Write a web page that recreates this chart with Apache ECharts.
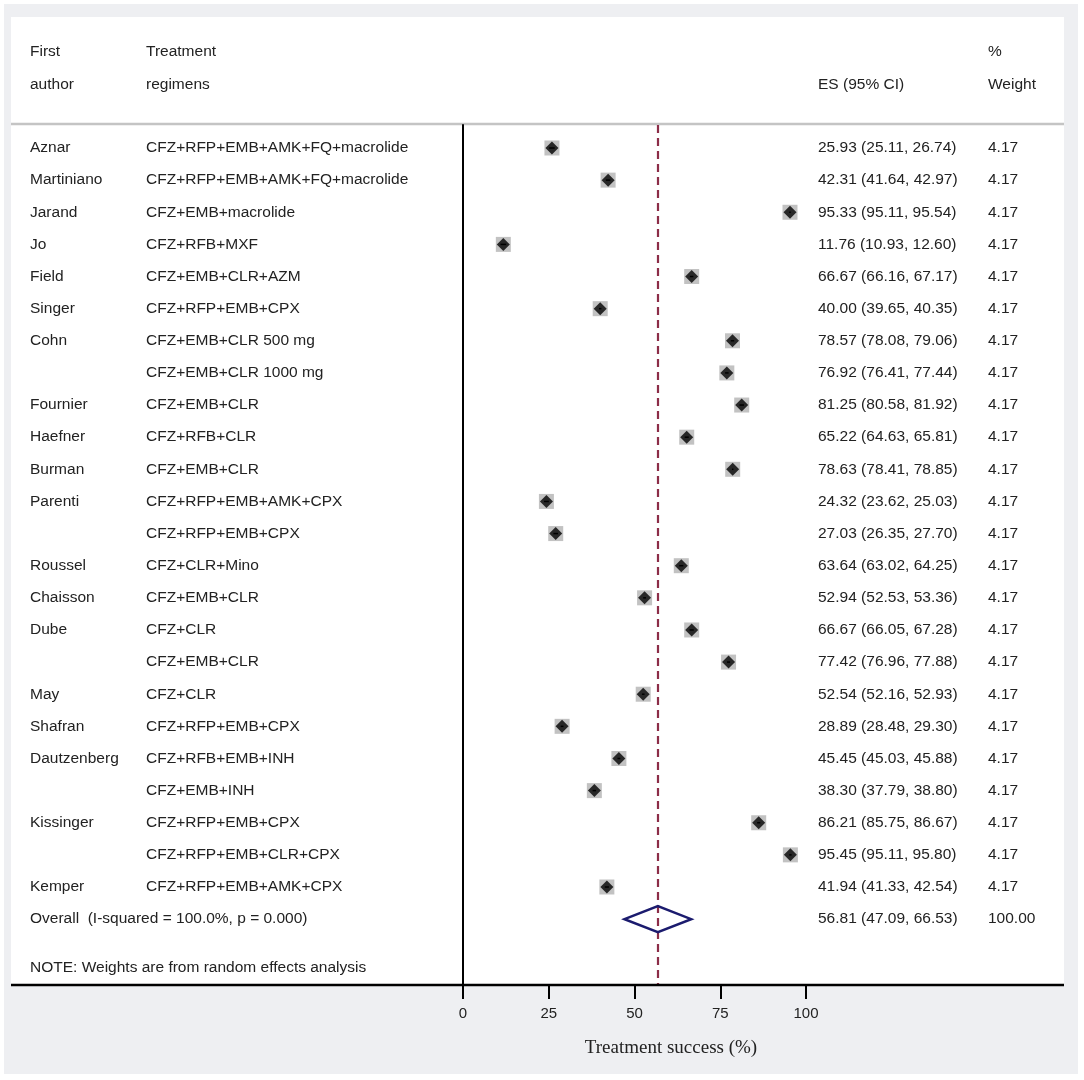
<!DOCTYPE html>
<html>
<head>
<meta charset="utf-8">
<script src="https://cdn.jsdelivr.net/npm/echarts@6/dist/echarts.min.js"></script>
<style>
html,body{margin:0;padding:0;background:#fff;}
#chart{width:1084px;height:1080px;}
</style>
</head>
<body>
<div id="chart"></div>
<script>
var authors = ['Aznar','Martiniano','Jarand','Jo','Field','Singer','Cohn','','Fournier','Haefner','Burman','Parenti','','Roussel','Chaisson','Dube','','May','Shafran','Dautzenberg','','Kissinger','','Kemper'];
var regimens = ['CFZ+RFP+EMB+AMK+FQ+macrolide','CFZ+RFP+EMB+AMK+FQ+macrolide','CFZ+EMB+macrolide','CFZ+RFB+MXF','CFZ+EMB+CLR+AZM','CFZ+RFP+EMB+CPX','CFZ+EMB+CLR 500 mg','CFZ+EMB+CLR 1000 mg','CFZ+EMB+CLR','CFZ+RFB+CLR','CFZ+EMB+CLR','CFZ+RFP+EMB+AMK+CPX','CFZ+RFP+EMB+CPX','CFZ+CLR+Mino','CFZ+EMB+CLR','CFZ+CLR','CFZ+EMB+CLR','CFZ+CLR','CFZ+RFP+EMB+CPX','CFZ+RFB+EMB+INH','CFZ+EMB+INH','CFZ+RFP+EMB+CPX','CFZ+RFP+EMB+CLR+CPX','CFZ+RFP+EMB+AMK+CPX'];
var es = [25.93,42.31,95.33,11.76,66.67,40.00,78.57,76.92,81.25,65.22,78.63,24.32,27.03,63.64,52.94,66.67,77.42,52.54,28.89,45.45,38.30,86.21,95.45,41.94];
var lower = [25.11,41.64,95.11,10.93,66.16,39.65,78.08,76.41,80.58,64.63,78.41,23.62,26.35,63.02,52.53,66.05,76.96,52.16,28.48,45.03,37.79,85.75,95.11,41.33];
var upper = [26.74,42.97,95.54,12.60,67.17,40.35,79.06,77.44,81.92,65.81,78.85,25.03,27.70,64.25,53.36,67.28,77.88,52.93,29.30,45.88,38.80,86.67,95.80,42.54];
var weights = ['4.17','4.17','4.17','4.17','4.17','4.17','4.17','4.17','4.17','4.17','4.17','4.17','4.17','4.17','4.17','4.17','4.17','4.17','4.17','4.17','4.17','4.17','4.17','4.17'];
var overall = {label:'Overall  (I-squared = 100.0%, p = 0.000)', es:56.81, lower:47.09, upper:66.53, weight:'100.00'};
var xTicks = [0,25,50,75,100];
var noteText = 'NOTE: Weights are from random effects analysis';

var FONT = "'Liberation Sans', Arial, sans-serif";
var FS = 15.5;
var TXT = '#222';
var nRows = es.length;
var overallRow = nRows;
var noteRow = nRows + 1.5;

function fmt(v){return v.toFixed(2);}
var esText = es.map(function(v,i){return fmt(v)+' ('+fmt(lower[i])+', '+fmt(upper[i])+')';});

var rowData = es.map(function(v,i){return [v,i];});
var textData = [];
for (var i=0;i<nRows;i++) textData.push([0,i]);

var chart = echarts.init(document.getElementById('chart'), null, {renderer:'canvas'});

function txt(x,y,s,extra){
  var st = {text:s, x:x, y:y, fill:TXT, font: FS+'px '+FONT, textVerticalAlign:'middle', textAlign:'left'};
  if (extra) for (var k in extra) st[k]=extra[k];
  return {type:'text', style:st, silent:true};
}

var option = {
  animation:false,
  backgroundColor:'#fff',
  grid:{left:463, right:278, top:125, bottom:95, containLabel:false},
  xAxis:{type:'value', min:0, max:100, interval:25,
    axisLine:{show:false, onZero:false},
    axisTick:{show:true, length:14, lineStyle:{color:'#000', width:2}},
    axisLabel:{color:TXT, fontSize:15, fontFamily:FONT, margin:21, customValues: xTicks},
    splitLine:{show:false}},
  yAxis:{type:'value', min:-0.716, max:26.05, inverse:true,
    axisLine:{show:true, onZero:false, lineStyle:{color:'#000', width:2}},
    axisTick:{show:false}, axisLabel:{show:false}, splitLine:{show:false}},
  graphic:[
    {type:'rect', z:-20, silent:true, shape:{x:4,y:4,width:1074,height:1070}, style:{fill:'#eeeff2'}},
    {type:'rect', z:-19, silent:true, shape:{x:11,y:17,width:1053,height:968}, style:{fill:'#fff'}},
    {type:'line', z:-5, silent:true, shape:{x1:11,y1:124,x2:1064,y2:124}, style:{stroke:'#c4c4c4', lineWidth:2.5}},
    {type:'line', z:10, silent:true, shape:{x1:11,y1:985,x2:1064,y2:985}, style:{stroke:'#000', lineWidth:2.5}},
    txt(30,52,'First'), txt(30,85,'author'),
    txt(146,52,'Treatment'), txt(146,85,'regimens'),
    txt(818,85,'ES (95% CI)'),
    txt(988,52,'%'), txt(988,85,'Weight'),
    {type:'text', silent:true, style:{text:'Treatment success (%)', x:671, y:1048, fill:'#222', font:"19px 'Liberation Serif', 'Times New Roman', serif", textAlign:'center', textVerticalAlign:'middle'}}
  ],
  series:[
    {type:'scatter', name:'weightbox', data:rowData, symbol:'rect', symbolSize:15,
      itemStyle:{color:'#b3b3b3'}, z:3, silent:true,
      markLine:{silent:true, symbol:['none','none'], label:{show:false},
        lineStyle:{color:'#8c2d48', type:[8,5], width:2.2},
        data:[{xAxis:overall.es}]}},
    {type:'custom', name:'ci', z:4, silent:true, data:rowData,
      renderItem:function(params, api){
        var i = params.dataIndex;
        var a = api.coord([lower[i], i]), b = api.coord([upper[i], i]);
        return {type:'line', shape:{x1:a[0],y1:a[1],x2:b[0],y2:b[1]}, style:{stroke:'#000', lineWidth:1.5}};
      }},
    {type:'scatter', name:'es', data:rowData, symbol:'diamond', symbolSize:[13,13],
      itemStyle:{color:'#000'}, z:5, silent:true},
    {type:'custom', name:'overall', z:6, silent:true, data:[[overall.es, overallRow]],
      renderItem:function(params, api){
        var l = api.coord([overall.lower, overallRow]);
        var c = api.coord([overall.es, overallRow]);
        var u = api.coord([overall.upper, overallRow]);
        var h = 13;
        return {type:'polygon', shape:{points:[[l[0],l[1]],[c[0],c[1]-h],[u[0],u[1]],[c[0],c[1]+h]]},
          style:{fill:'none', stroke:'#1b1b6e', lineWidth:2.5, lineJoin:'miter'}};
      }},
    {type:'custom', name:'texts', z:7, silent:true, clip:false, data:textData,
      renderItem:function(params, api){
        var i = params.dataIndex;
        var y = api.coord([0, i])[1];
        return {type:'group', children:[
          txt(30,y,authors[i]), txt(146,y,regimens[i]), txt(818,y,esText[i]), txt(988,y,weights[i])
        ]};
      }},
    {type:'custom', name:'overalltext', z:7, silent:true, clip:false, data:[[0, overallRow]],
      renderItem:function(params, api){
        var y = api.coord([0, overallRow])[1];
        var y2 = api.coord([0, noteRow])[1];
        return {type:'group', children:[
          txt(30,y,overall.label), txt(818,y,fmt(overall.es)+' ('+fmt(overall.lower)+', '+fmt(overall.upper)+')'),
          txt(988,y,overall.weight), txt(30,y2,noteText)
        ]};
      }}
  ]
};
chart.setOption(option);
</script>
</body>
</html>
